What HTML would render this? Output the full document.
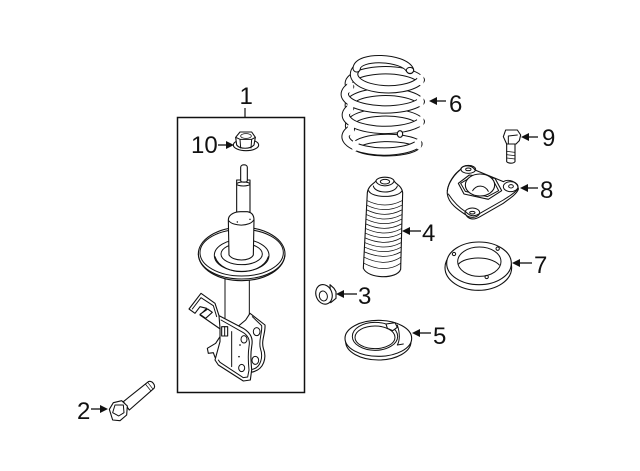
<!DOCTYPE html>
<html>
<head>
<meta charset="utf-8">
<style>
html,body{margin:0;padding:0;background:#fff;}
svg{display:block;}
text{font-family:"Liberation Sans",sans-serif;font-size:24px;fill:#111;}
.z{fill:#fff;stroke:#111;stroke-width:3.3;stroke-linejoin:round;stroke-linecap:round;}
.n{fill:none;stroke:#111;stroke-width:3;stroke-linejoin:round;stroke-linecap:round;}
.t{fill:none;stroke:#111;stroke-width:2.2;stroke-linecap:round;}
.k{fill:none;stroke:#111;stroke-width:25;stroke-linecap:round;}
.w{fill:none;stroke:#fff;stroke-width:19;stroke-linecap:round;}
.p{fill:none;stroke:#fff;stroke-width:19;stroke-linecap:butt;}
</style>
</head>
<body>
<svg width="640" height="471" viewBox="0 0 640 471" xmlns="http://www.w3.org/2000/svg">
<rect width="640" height="471" fill="#fff"/>
<rect x="177.5" y="117.5" width="127" height="275" fill="#fff" stroke="#111" stroke-width="1.5"/>
<line x1="245" y1="108" x2="245" y2="117" stroke="#111" stroke-width="1.2"/>

<!-- strut upper -->
<g transform="translate(170,230) scale(.33333)">
  <!-- tube -->
  <path class="n" d="M165,130 L165,300 M238,130 L238,300"/>
  <!-- seat -->
  <ellipse class="z" cx="215" cy="72" rx="130" ry="80"/>
  <path class="n" d="M85,72 C88,120 150,147 215,147 C280,147 342,120 345,72"/>
  <ellipse class="n" cx="215" cy="68" rx="125" ry="70"/>
  <ellipse class="n" cx="215" cy="76" rx="82" ry="48"/>
  <ellipse class="n" cx="215" cy="72" rx="62" ry="32"/>
  <path class="n" d="M135,80 C145,112 185,125 215,125 C245,125 285,112 295,80"/>
</g>
<g transform="translate(170,80) scale(.33333)">
  <path class="z" d="M200,300 L200,410 L240,410 L240,300 Z"/>
  <path class="z" d="M212,262 C212,252 232,252 232,262 L232,302 C232,308 212,308 212,302 Z"/>
  <ellipse class="n" cx="220" cy="312" rx="20" ry="6"/>
  <path class="z" d="M175,420 C175,400 200,395 212,395 L232,395 C245,397 252,405 252,420 L250,525 C240,545 190,545 177,525 Z"/>
  <path class="n" d="M176,422 C190,440 240,440 251,420"/>
  <circle cx="202" cy="426" r="2.2" fill="#111"/><circle cx="240" cy="418" r="2.2" fill="#111"/>
  <!-- nut 10 -->
  <ellipse class="z" cx="228" cy="195" rx="38" ry="17"/>
  <path class="z" d="M197,172 L210,156 L245,156 L256,172 L252,195 C240,208 210,208 200,195 Z"/>
  <path class="n" d="M210,178 L245,178 M210,178 L197,172 M245,178 L256,172 M210,178 L212,204 M245,178 L243,204"/>
  <ellipse class="t" cx="228" cy="168" rx="16" ry="7"/>
</g>

<!-- strut bracket -->
<g transform="translate(175,285) scale(.33333)">
  <path class="z" d="M42,72 L78,25 L120,55 L133,95 L140,135 L75,90 L95,70 L75,65 L60,85 Z"/>
  <path class="n" d="M52,72 L78,38 L115,62 L125,95"/>
  <path class="z" d="M75,88 L98,72 L112,82 L92,100 Z"/>
  <!-- rear plate -->
  <path class="z" d="M225,85 L270,120 C272,145 258,165 265,190 C275,215 270,255 228,262 L170,140 L212,105 Z"/>
  <path class="n" d="M232,95 L260,122 C262,145 250,165 256,190 C265,215 258,248 232,253"/>
  <ellipse class="n" cx="245" cy="140" rx="10" ry="12"/>
  <ellipse class="n" cx="241" cy="226" rx="10" ry="12"/>
  <!-- tab -->
  <path class="z" d="M97,190 L122,175 L135,155 L155,180 L150,205 L120,217 L115,203 L100,205 Z"/>
  <path class="n" d="M135,165 C148,175 148,195 140,205"/>
  <!-- main plate -->
  <path class="z" d="M132,92 L205,130 C228,145 235,160 230,185 C226,210 228,225 230,255 L226,285 L205,288 L130,240 L120,225 L135,170 L135,130 Z"/>
  <path class="n" d="M138,105 L200,140 C220,150 226,165 222,185 C218,210 220,235 222,255 L218,276 L205,278 L135,232 L130,225"/>
  <path class="n" d="M170,140 L170,245"/>
  <rect class="z" x="140" y="125" width="18" height="28"/>
  <path class="n" d="M149,125 L149,153"/>
  <ellipse class="n" cx="207" cy="163" rx="9" ry="11"/>
  <ellipse class="n" cx="200" cy="249" rx="9" ry="11"/>
  <circle cx="195" cy="180" r="2.5" fill="#111"/>
  <circle cx="192" cy="215" r="2.5" fill="#111"/>
</g>

<!-- spring -->
<g transform="translate(330,40) scale(.33333)">
  <!-- rear halves -->
  <path class="k" d="M75,318 A100 30 0 0 1 265,312"/>
  <path class="w" d="M75,318 A100 30 0 0 1 265,312"/>
  <path class="k" d="M62,268 A106 38 0 0 1 272,245"/>
  <path class="w" d="M62,268 A106 38 0 0 1 272,245"/>
  <path class="k" d="M60,205 A106 38 0 0 1 272,185"/>
  <path class="w" d="M60,205 A106 38 0 0 1 272,185"/>
  <path class="k" d="M60,140 A106 38 0 0 1 272,120"/>
  <path class="w" d="M60,140 A106 38 0 0 1 272,120"/>
  <!-- front halves -->
  <path class="k" d="M75,318 A98 28 0 0 0 265,312"/>
  <path class="w" d="M75,318 A98 28 0 0 0 265,312"/>
  <path class="k" d="M62,268 A105 40 0 0 0 265,312"/>
  <path class="w" d="M62,268 A105 40 0 0 0 265,312"/>
  <path class="k" d="M60,205 A106 40 0 0 0 272,245"/>
  <path class="w" d="M60,205 A106 40 0 0 0 272,245"/>
  <path class="k" d="M60,140 A106 40 0 0 0 272,185"/>
  <path class="w" d="M60,140 A106 40 0 0 0 272,185"/>
  <path class="k" d="M80,85 A96 42 0 0 0 272,120"/>
  <path class="w" d="M80,85 A96 42 0 0 0 272,120"/>
  <path class="k" d="M80,85 C85,45 220,50 240,90"/>
  <path class="w" d="M80,85 C85,45 220,50 240,90"/>
  <!-- junction patches -->
  <path class="p" d="M268,106 Q276,120 268,134"/>
  <path class="p" d="M268,171 Q276,185 268,199"/>
  <path class="p" d="M268,231 Q276,245 268,259"/>
  <path class="p" d="M261,298 Q269,312 261,326"/>
  <path class="p" d="M64,126 Q56,140 64,154"/>
  <path class="p" d="M64,191 Q56,205 64,219"/>
  <path class="p" d="M66,254 Q58,268 66,282"/>
  <path class="p" d="M79,304 Q71,318 79,332"/>
  <ellipse class="n" cx="240" cy="91" rx="11" ry="9"/>
  <ellipse class="z" cx="210" cy="282" rx="8" ry="10"/>
</g>

<!-- boot, nut 3, seat 5 -->
<g transform="translate(310,170) scale(.33333)">
  <path class="z" d="M172,68 C175,45 195,40 198,32 C205,18 245,18 252,32 C255,42 275,45 278,68 L272,298 C262,328 175,328 160,295 Z"/>
  <path class="n" d="M198,34 C205,52 245,52 252,34"/>
  <ellipse class="n" cx="225" cy="35" rx="14" ry="7"/>
  <path class="n" d="M176,62 C185,85 265,85 276,62"/>
  <path class="n" d="M190,48 C195,72 255,72 262,48"/>
  <path class="t" d="M172,92 Q225,118 276,92 M171,106 Q225,132 275,106 M171,120 Q225,146 275,120 M170,134 Q225,160 275,134 M169,148 Q225,174 274,148 M168,162 Q225,188 274,162 M168,176 Q225,202 274,176 M167,190 Q225,216 273,190 M166,204 Q225,230 273,204 M165,218 Q225,244 273,218 M165,232 Q225,258 273,232 M164,246 Q225,272 272,246 M163,262 Q225,292 272,262 M162,280 Q225,312 272,280"/>

  <path class="z" d="M60,344 L72,355 L78,365 L78,385 L62,398 Z"/>
  <ellipse class="z" cx="42" cy="373" rx="24" ry="30" transform="rotate(-20 42 373)"/>
  <ellipse class="n" cx="40" cy="378" rx="12" ry="15" transform="rotate(-15 40 378)"/>

  <ellipse class="z" cx="205" cy="515" rx="98" ry="55"/>
  <ellipse class="z" cx="205" cy="505" rx="100" ry="54"/>
  <ellipse class="n" cx="195" cy="499" rx="68" ry="42"/>
  <ellipse class="n" cx="195" cy="502" rx="60" ry="34"/>
  <path class="z" d="M228,462 L255,458 L262,472 L248,482 L232,475 Z" />
  <path class="n" d="M262,465 C270,490 270,510 262,525 L280,522"/>
</g>

<!-- 9, 8, 7 -->
<g transform="translate(440,120) scale(.33333)">
  <!-- 9 -->
  <path class="z" d="M200,70 L225,70 L225,125 C220,131 205,131 200,125 Z"/>
  <path class="t" d="M200,94 L225,97 M200,104 L225,107 M200,114 L225,117"/>
  <path class="z" d="M190,50 L197,30 L232,30 L242,45 L238,62 L228,72 L200,72 Z"/>
  <path class="n" d="M205,48 L232,45 M205,48 L205,70"/>
  <!-- 8 -->
  <path class="z" d="M22,222 C20,205 30,175 62,148 C65,135 95,132 105,150 L190,185 C205,175 235,185 235,208 C230,222 210,235 190,250 L120,290 C100,302 85,297 78,285 C55,270 25,250 22,222 Z"/>
  <path class="n" d="M22,212 C25,185 45,160 62,148 M25,222 C40,245 60,265 78,276 C95,295 112,285 120,280 L190,240 C205,230 225,220 235,205"/>
  <ellipse class="n" cx="85" cy="148" rx="22" ry="12"/>
  <ellipse class="n" cx="85" cy="148" rx="8" ry="4"/>
  <ellipse class="n" cx="212" cy="200" rx="22" ry="15"/>
  <ellipse class="n" cx="213" cy="199" rx="7" ry="5"/>
  <ellipse class="n" cx="97" cy="278" rx="22" ry="14"/>
  <ellipse class="n" cx="97" cy="278" rx="8" ry="4"/>
  <path class="z" d="M55,190 L88,165 L165,175 L185,212 L145,238 L72,222 Z"/>
  <path class="n" d="M62,190 L92,172 L160,182 L176,212 L142,230 L76,214 Z"/>
  <ellipse class="z" cx="120" cy="195" rx="44" ry="33"/>
  <path class="n" d="M98,212 C110,192 135,195 145,214"/>
  <!-- 7 -->
  <ellipse class="z" cx="115" cy="443" rx="100" ry="68"/>
  <ellipse class="z" cx="117" cy="430" rx="97" ry="64"/>
  <ellipse class="n" cx="118" cy="425" rx="65" ry="44"/>
  <path class="n" d="M56,432 C75,410 150,405 178,435"/>
  <circle class="n" cx="42" cy="402" r="5"/>
  <circle class="n" cx="173" cy="386" r="5"/>
  <circle class="n" cx="140" cy="471" r="5"/>
</g>

<!-- bolt 2 -->
<g transform="translate(70,370) scale(.33333)">
  <path class="z" d="M160,95 L235,35 C245,30 258,45 252,55 L178,120 Z"/>
  <path class="t" d="M226,42 L242,62 M233,37 L248,56"/>
  <path class="z" d="M118,118 L130,98 L155,92 L172,108 L170,135 L150,152 L128,150 Z"/>
  <path class="n" d="M135,105 L160,105 L162,128 L146,138 L128,128 Z"/>
</g>

<!-- arrows -->
<g stroke="#111" stroke-width="1.3" fill="#111">
  <line x1="218" y1="145" x2="228" y2="145"/><path stroke="none" d="M234,145 L226,141 L226,149 Z"/>
  <line x1="91" y1="409" x2="102" y2="409"/><path stroke="none" d="M108,409 L100,405 L100,413 Z"/>
  <line x1="343" y1="294" x2="357" y2="294"/><path stroke="none" d="M336,294 L344,290 L344,298 Z"/>
  <line x1="408" y1="231" x2="421" y2="231"/><path stroke="none" d="M402,231 L410,227 L410,235 Z"/>
  <line x1="418" y1="333" x2="431" y2="333"/><path stroke="none" d="M412,333 L420,329 L420,337 Z"/>
  <line x1="435" y1="101" x2="446" y2="101"/><path stroke="none" d="M429,101 L437,97 L437,105 Z"/>
  <line x1="518" y1="263" x2="532" y2="263"/><path stroke="none" d="M512,263 L520,259 L520,267 Z"/>
  <line x1="526" y1="188" x2="538" y2="188"/><path stroke="none" d="M520,188 L528,184 L528,192 Z"/>
  <line x1="527" y1="137" x2="538" y2="137"/><path stroke="none" d="M521,137 L529,133 L529,141 Z"/>
</g>

<!-- labels -->
<text x="239.5" y="104">1</text>
<text x="191" y="153">10</text>
<text x="77" y="419">2</text>
<text x="358" y="304">3</text>
<text x="422" y="241">4</text>
<text x="433" y="344">5</text>
<text x="449" y="112">6</text>
<text x="534" y="273">7</text>
<text x="540" y="198">8</text>
<text x="542" y="146">9</text>
</svg>
</body>
</html>
